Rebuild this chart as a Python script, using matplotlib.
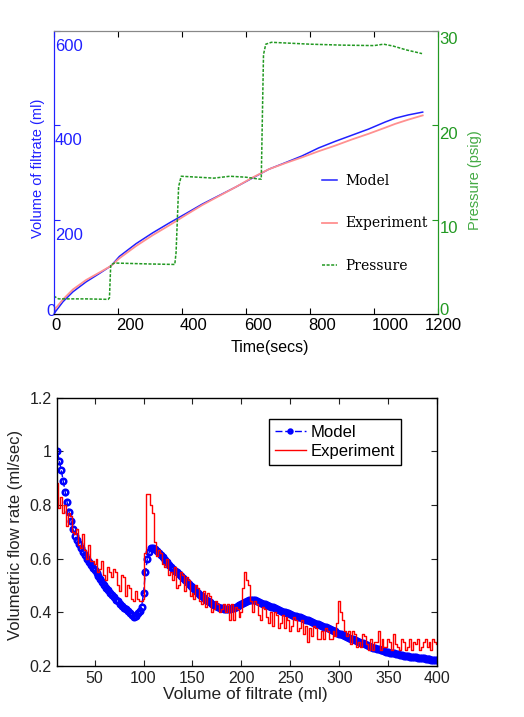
import numpy as np
import matplotlib
matplotlib.use("Agg")
import matplotlib.pyplot as plt
from matplotlib.transforms import ScaledTranslation

plt.rcParams['font.family'] = ['Liberation Sans', 'DejaVu Sans']

# --- top panel: filtrate volume and pressure vs time ---
t_model = [0, 29, 60, 101, 143, 179, 205, 257, 309, 361, 413, 464, 516, 568,
           620, 672, 724, 775, 827, 879, 931, 983, 1035, 1066, 1107, 1152]
v_model = [0, 26, 47, 68, 86, 102, 122, 149, 172, 193, 213, 233, 251, 269,
           288, 307, 321, 335, 352, 366, 379, 392, 407, 415, 422, 428]
t_exp = [0, 29, 60, 101, 143, 179, 205, 257, 309, 361, 413, 464, 516, 568,
         620, 672, 724, 775, 827, 879, 931, 983, 1035, 1066, 1107, 1152]
v_exp = [7, 31, 52, 72, 88, 102, 118, 144, 167, 188, 210, 231, 250, 269,
         289, 307, 320, 332, 345, 357, 370, 382, 395, 403, 412, 421]
t_press = [0, 15, 100, 170, 174, 178, 190, 300, 378, 382, 390, 398, 450, 500,
           550, 600, 640, 648, 651, 655, 662, 680, 800, 900, 1000, 1030, 1060,
           1100, 1150]
press = [1.9, 1.6, 1.6, 1.55, 1.7, 5.2, 5.4, 5.3, 5.25, 6.5, 13.5, 14.6,
         14.5, 14.4, 14.6, 14.5, 14.3, 14.3, 20.0, 27.5, 28.6, 28.8, 28.6,
         28.5, 28.45, 28.6, 28.4, 28.0, 27.6]

# --- bottom panel: flow rate vs filtrate volume (2 ml steps, 12..400) ---
vol = list(range(12, 401, 2))
model_q = [1.00, 0.965, 0.93, 0.89, 0.85, 0.81, 0.775, 0.74, 0.71, 0.685,
           0.668, 0.653, 0.638, 0.624, 0.612, 0.60, 0.588, 0.576, 0.565, 0.556,
           0.547, 0.536, 0.524, 0.512, 0.50, 0.49, 0.481, 0.472, 0.463, 0.455,
           0.447, 0.44, 0.432, 0.424, 0.417, 0.41, 0.403, 0.396, 0.388, 0.38,
           0.385, 0.395, 0.405, 0.42, 0.47, 0.55, 0.60, 0.625, 0.638, 0.64,
           0.635, 0.627, 0.62, 0.612, 0.605, 0.596, 0.587, 0.577, 0.567, 0.56,
           0.555, 0.548, 0.541, 0.534, 0.527, 0.52, 0.513, 0.506, 0.499, 0.492,
           0.485, 0.478, 0.471, 0.465, 0.459, 0.453, 0.447, 0.441, 0.436, 0.431,
           0.427, 0.423, 0.42, 0.417, 0.415, 0.413, 0.412, 0.412, 0.413, 0.414,
           0.416, 0.419, 0.422, 0.426, 0.43, 0.434, 0.438, 0.441, 0.444, 0.446,
           0.446, 0.444, 0.441, 0.438, 0.435, 0.432, 0.43, 0.427, 0.424, 0.421,
           0.418, 0.415, 0.412, 0.408, 0.405, 0.402, 0.40, 0.398, 0.395, 0.392,
           0.39, 0.387, 0.385, 0.382, 0.38, 0.377, 0.374, 0.372, 0.369, 0.366,
           0.363, 0.36, 0.357, 0.355, 0.352, 0.349, 0.346, 0.343, 0.34, 0.337,
           0.334, 0.331, 0.328, 0.324, 0.32, 0.318, 0.315, 0.312, 0.308, 0.304,
           0.301, 0.298, 0.295, 0.292, 0.289, 0.286, 0.283, 0.28, 0.277, 0.274,
           0.271, 0.268, 0.265, 0.263, 0.261, 0.259, 0.257, 0.255, 0.253, 0.251,
           0.249, 0.247, 0.246, 0.245, 0.243, 0.241, 0.24, 0.238, 0.237, 0.236,
           0.234, 0.233, 0.232, 0.231, 0.23, 0.229, 0.228, 0.227, 0.226, 0.225,
           0.224, 0.223, 0.222, 0.221, 0.22]
exp_q = [0.88, 0.79, 0.83, 0.77, 0.80, 0.72, 0.77, 0.76, 0.70, 0.69,
         0.71, 0.65, 0.64, 0.69, 0.63, 0.60, 0.65, 0.59, 0.59, 0.58,
         0.60, 0.55, 0.56, 0.59, 0.54, 0.52, 0.57, 0.55, 0.53, 0.56,
         0.55, 0.50, 0.48, 0.54, 0.53, 0.46, 0.50, 0.49, 0.45, 0.44,
         0.48, 0.45, 0.44, 0.44, 0.45, 0.62, 0.84, 0.84, 0.80, 0.77,
         0.66, 0.61, 0.63, 0.62, 0.58, 0.57, 0.60, 0.54, 0.55, 0.52,
         0.57, 0.49, 0.50, 0.55, 0.54, 0.48, 0.53, 0.52, 0.46, 0.47,
         0.45, 0.50, 0.49, 0.44, 0.43, 0.48, 0.42, 0.47, 0.46, 0.40,
         0.41, 0.44, 0.43, 0.40, 0.41, 0.43, 0.40, 0.43, 0.37, 0.43,
         0.37, 0.42, 0.41, 0.38, 0.40, 0.49, 0.55, 0.52, 0.50, 0.44,
         0.40, 0.44, 0.43, 0.39, 0.37, 0.42, 0.41, 0.38, 0.36, 0.40,
         0.35, 0.40, 0.39, 0.34, 0.36, 0.39, 0.34, 0.38, 0.37, 0.33,
         0.35, 0.38, 0.37, 0.33, 0.34, 0.37, 0.32, 0.35, 0.29, 0.34,
         0.31, 0.35, 0.34, 0.30, 0.30, 0.33, 0.30, 0.34, 0.33, 0.30,
         0.30, 0.33, 0.31, 0.36, 0.44, 0.40, 0.37, 0.33, 0.31, 0.33,
         0.28, 0.33, 0.32, 0.27, 0.29, 0.27, 0.32, 0.31, 0.28, 0.26,
         0.30, 0.26, 0.29, 0.29, 0.33, 0.26, 0.30, 0.27, 0.27, 0.30,
         0.29, 0.26, 0.32, 0.28, 0.27, 0.26, 0.30, 0.29, 0.26, 0.27,
         0.30, 0.26, 0.29, 0.28, 0.30, 0.26, 0.27, 0.29, 0.30, 0.27,
         0.29, 0.26, 0.30, 0.29, 0.28]

flow_yticks = [0.2, 0.4, 0.6, 0.8, 1.0, 1.2]
flow_yticklabels = ['0.2', '0.4', '0.6', '0.8', '1', '1.2']

blue = '#2020ff'
green = '#229922'

fig = plt.figure(figsize=(5.24, 7.17), dpi=100)

# ---------------- top panel ----------------
ax1 = fig.add_axes([0.1025, 0.5621, 0.7335, 0.3947])
ax2 = ax1.twinx()

l_model, = ax1.plot(t_model, v_model, color=blue, lw=1.1, label='Model')
l_exp, = ax1.plot(t_exp, v_exp, color='#ff9090', lw=1.3, label='Experiment')
l_press, = ax2.plot(t_press, press, color=green, lw=1.1,
                    linestyle=(0, (2, 1)), label='Pressure')

ax1.set_xlim(0, 1200)
ax1.set_ylim(0, 600)
ax2.set_ylim(0, 30)
ax1.set_xticks([0, 200, 400, 600, 800, 1000, 1200])
ax1.set_yticks([0, 200, 400, 600])
ax2.set_yticks([0, 10, 20, 30])

for a in (ax1, ax2):
    a.spines['left'].set_color(blue)
    a.spines['right'].set_color(green)
    a.spines['top'].set_color('#888888')
    a.spines['bottom'].set_color('black')

ax1.tick_params(axis='x', direction='in', top=True, bottom=True, length=4,
                color='black', labelsize=12, pad=3)
ax1.tick_params(axis='y', direction='in', length=4, color=blue,
                labelcolor=blue, labelsize=12, pad=-1)
ax2.tick_params(axis='y', direction='in', length=4, color=green,
                labelcolor=green, labelsize=12, pad=1)

dpi_tr = fig.dpi_scale_trans
for lab in ax1.get_yticklabels():
    if lab.get_text() == '0':
        lab.set_ha('right')
        lab.set_transform(lab.get_transform() + ScaledTranslation(0.01, 0.04, dpi_tr))
    else:
        lab.set_ha('left')
        lab.set_transform(lab.get_transform() + ScaledTranslation(0.0, -0.14, dpi_tr))
for lab in ax2.get_yticklabels():
    dy = 0.05 if lab.get_text() == '0' else -0.075
    lab.set_transform(lab.get_transform() + ScaledTranslation(0.0, dy, dpi_tr))
for lab in ax1.get_xticklabels():
    if lab.get_text() == '1200':
        lab.set_transform(lab.get_transform() + ScaledTranslation(0.05, 0, dpi_tr))
    else:
        lab.set_ha('left')
        lab.set_transform(lab.get_transform() + ScaledTranslation(-0.02, 0, dpi_tr))

ax1.set_xlabel('Time(secs)', fontsize=11.5)
ax1.xaxis.set_label_coords(0.563, -0.117)
ax1.xaxis.label.set_va('center')
ax1.set_ylabel('Volume of filtrate (ml)', fontsize=10.5, color=blue)
ax1.yaxis.set_label_coords(-0.041, 0.516)
ax1.yaxis.label.set_va('center')
ax2.set_ylabel('Pressure (psig)', fontsize=10.5, color='#44aa44', rotation=90)
ax2.yaxis.set_label_coords(1.096, 0.473)
ax2.yaxis.label.set_va('center')

ax2.legend(handles=[l_model, l_exp, l_press], loc='upper left',
           bbox_to_anchor=(0.6145, 0.7573), bbox_transform=fig.transFigure,
           frameon=False, borderpad=0, borderaxespad=0, handlelength=1.1,
           handletextpad=0.55, labelspacing=2.05,
           prop={'family': 'DejaVu Serif', 'size': 10})

# ---------------- bottom panel ----------------
ax3 = fig.add_axes([0.1094, 0.0715, 0.7252, 0.3738])
ax3.plot(vol, model_q, color='#0000ff', lw=1.0, linestyle=(0, (5, 2)),
         marker='o', markersize=4.0, markerfacecolor='none',
         markeredgecolor='#0000ff', markeredgewidth=1.8, label='Model')
ax3.plot(vol, exp_q, color='#ff0000', lw=1.0, drawstyle='steps-mid',
         label='Experiment')

ax3.set_xlim(12, 400)
ax3.set_ylim(0.2, 1.2)
ax3.set_xticks([50, 100, 150, 200, 250, 300, 350, 400])
ax3.set_yticks(flow_yticks)
ax3.set_yticklabels(flow_yticklabels)
ax3.tick_params(direction='in', top=True, right=True, length=4,
                labelsize=11.5, colors='#222222', pad=4)
for s in ax3.spines.values():
    s.set_color('black')
    s.set_linewidth(1.0)

ax3.set_xlabel('Volume of filtrate (ml)', fontsize=12.5, color='#222222')
ax3.xaxis.set_label_coords(0.494, -0.106)
ax3.xaxis.label.set_va('center')
ax3.set_ylabel('Volumetric flow rate (ml/sec)', fontsize=12, color='#222222')
ax3.yaxis.set_label_coords(-0.111, 0.488)
ax3.yaxis.label.set_va('center')

leg = ax3.legend(loc='upper left', bbox_to_anchor=(0.557, 0.9205),
                 borderaxespad=0, fancybox=False, edgecolor='black',
                 framealpha=1, fontsize=12, handlelength=1.85,
                 handletextpad=0.3, labelspacing=0.25, borderpad=0.35,
                 numpoints=1, markerscale=0.7)
leg.get_frame().set_linewidth(1.0)

fig.savefig('out.png', dpi=100)
